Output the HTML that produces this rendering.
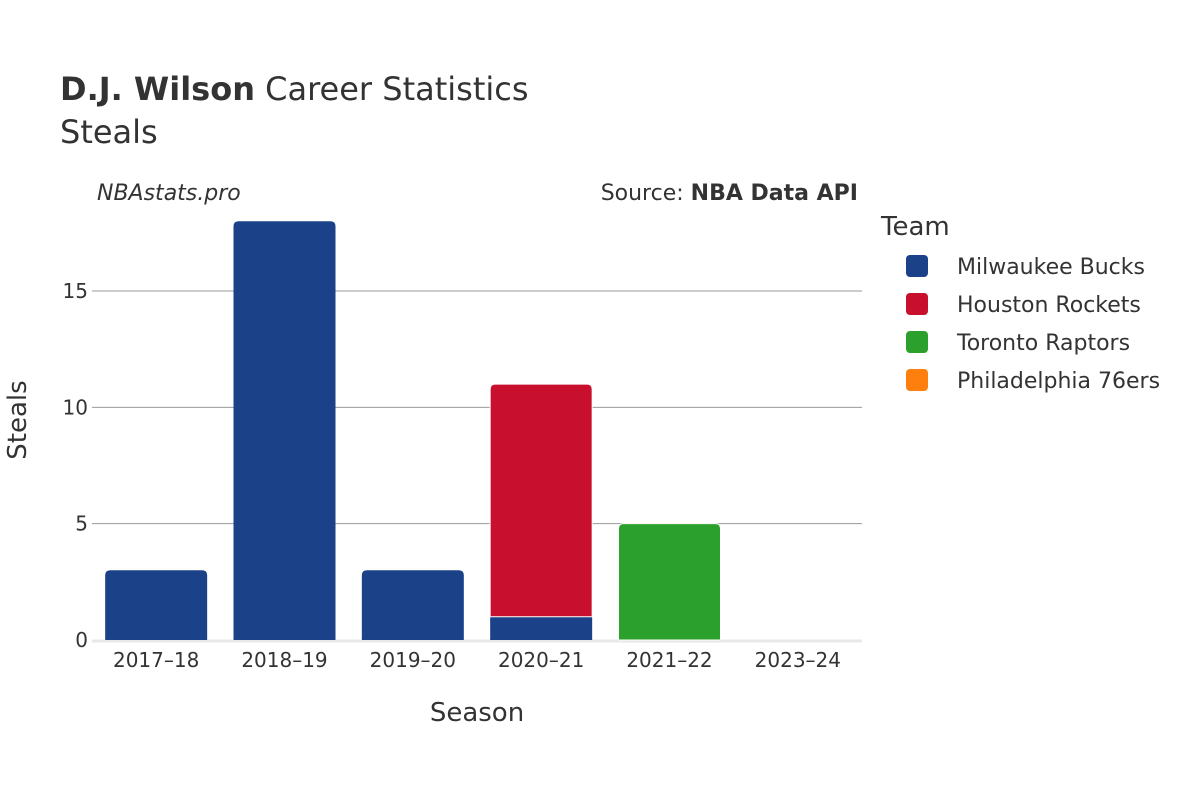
<!DOCTYPE html>
<html><head><meta charset="utf-8"><style>
body{margin:0;background:#fff;}
svg text{font-family:"DejaVu Sans","Liberation Sans",sans-serif;fill:#333;}
</style></head><body>
<svg id="chart" width="1200" height="800">
<text x="60" y="100" font-size="32"><tspan font-weight="bold">D.J. Wilson</tspan> Career Statistics</text>
<text x="60" y="143" font-size="32">Steals</text>
<text x="97" y="200" font-size="22" font-style="italic">NBAstats.pro</text>
<text x="858" y="200" font-size="22" text-anchor="end">Source: <tspan font-weight="bold">NBA Data API</tspan></text>
<g id="grid"></g>
<g id="bars"></g>
<g id="xticks"></g>
<text x="477" y="721" font-size="26" text-anchor="middle">Season</text>
<text transform="translate(26,420) rotate(-90)" font-size="26" text-anchor="middle">Steals</text>
<text x="881" y="235" font-size="26">Team</text>
<g id="legend"></g>
</svg>
<script>
const seasons=["2017–18","2018–19","2019–20","2020–21","2021–22","2023–24"];
const teams=["Milwaukee Bucks","Houston Rockets","Toronto Raptors","Philadelphia 76ers"];
const colors=["#1b4289","#c8102e","#2ca02c","#ff7f0e"];
const bucks=[3,18,3,1,0,0];
const rockets=[0,0,0,10,0,0];
const raptors=[0,0,0,0,5,0];
const sixers=[0,0,0,0,0,0];
const yTicks=[0,5,10,15];
const series=[bucks,rockets,raptors,sixers];
const NS="http://www.w3.org/2000/svg";
const x0=92,x1=862,yBase=640,pxPer=349/15;
const band=(x1-x0)/seasons.length,bw=102;
const y=v=>yBase-v*pxPer;
const xc=i=>x0+band*(i+0.5);
function mk(t,a,p){const e=document.createElementNS(NS,t);for(const k in a)e.setAttribute(k,a[k]);document.getElementById(p).appendChild(e);return e;}
yTicks.forEach(t=>{
 if(t>0){const l=mk("line",{x1:x0,x2:x1,y1:y(t),y2:y(t),stroke:"#999","stroke-width":1},"grid");
 
 }
 const tx=mk("text",{x:x0-4,y:y(t)+7,"font-size":20,"text-anchor":"end"},"grid");tx.textContent=t;
 
 
});
const zl=mk("line",{x1:x0,x2:x1,y1:yBase+1,y2:yBase+1,stroke:"#e8e8e8","stroke-width":3},"grid");


seasons.forEach((s,i)=>{
 let acc=0;
 series.forEach((arr,k)=>{
  const v=arr[i];if(v<=0)return;
  const top=y(acc+v),bot=y(acc);acc+=v;
  const isTop=series.slice(k+1).every(a=>a[i]<=0);
  const r=isTop?5:0,L=xc(i)-bw/2,R=xc(i)+bw/2;
  const d=`M${L},${bot}L${L},${top+r}Q${L},${top} ${L+r},${top}L${R-r},${top}Q${R},${top} ${R},${top+r}L${R},${bot}Z`;
  const p=mk("path",{d:d,fill:colors[k],stroke:"#fff","stroke-width":k>0?1:0},"bars");
  
  
 });
 const t=mk("text",{x:xc(i),y:667,"font-size":20,"text-anchor":"middle"},"xticks");t.textContent=s;
 
 
});
teams.forEach((tm,k)=>{
 const cy=266+k*38;
 const r=mk("rect",{x:906,y:cy-11,width:22,height:22,rx:4,fill:colors[k]},"legend");
 
 
 const t=mk("text",{x:957,y:cy+8,"font-size":22},"legend");t.textContent=tm;
 
 
});
</script>
</body></html>
